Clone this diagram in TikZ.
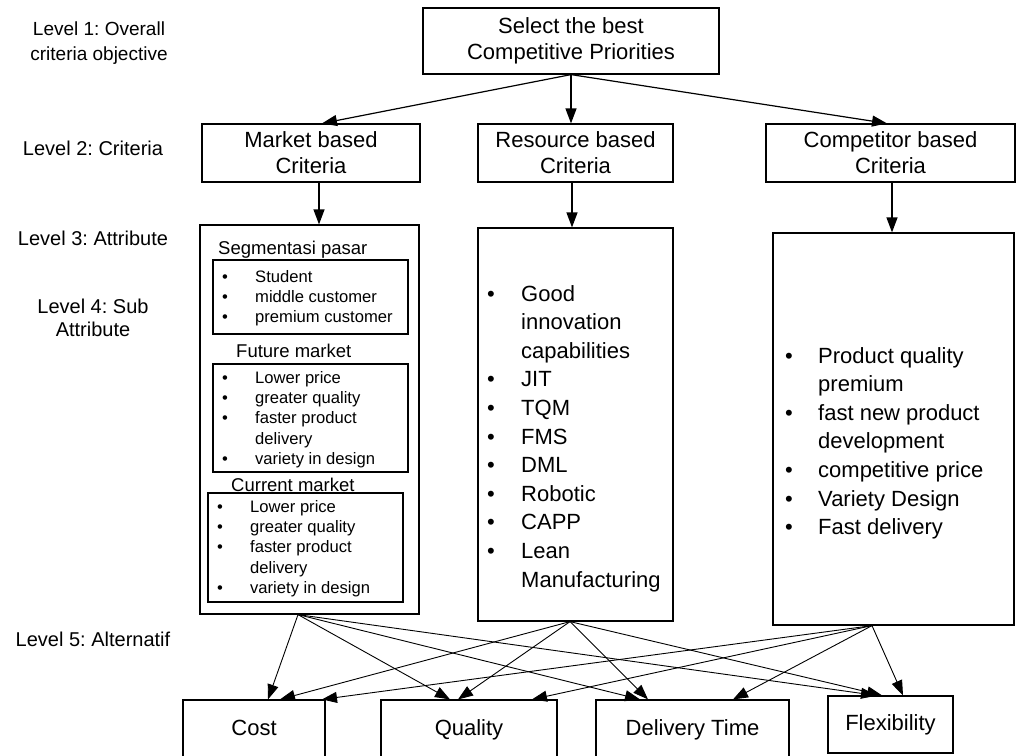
\documentclass[tikz,border=0pt]{standalone}
\usepackage{fontspec}
\setmainfont{Liberation Sans}
\usetikzlibrary{arrows.meta}
\frenchspacing

\newcommand{\fsz}[2]{\fontsize{#1}{#2}\selectfont}

\begin{document}
\begin{tikzpicture}[x=1pt,y=-1pt,
  box/.style={draw, line width=1.2pt, inner sep=0pt, align=center},
  big/.style={font=\fsz{22}{26}},
  alt/.style={box, big, text height=16pt, text depth=5pt},
  lvl/.style={font=\fsz{20}{23}, align=center},
  sub/.style={font=\fsz{18.5}{22}, inner sep=0pt, anchor=base west},
  small/.style={font=\fsz{16.6}{20.2}, inner sep=0pt, anchor=base west},
  list/.style={font=\fsz{22}{28.6}, inner sep=0pt, anchor=base west},
  >={Triangle[length=15pt,width=11pt]},
  arr/.style={->, line width=0.9pt}]

\useasboundingbox (0,0) rectangle (1016,755);
\clip (0,0) rectangle (1016,755);

\node[lvl, font=\fsz{19}{25}] (lv1) at (99,43) {Level 1: Overall\\criteria objective};
\node[lvl] (lv2) at (93,148) {Level 2: Criteria};
\node[lvl] (lv3) at (93,238) {Level 3: Attribute};
\node[lvl] (lv4) at (93,318) {Level 4: Sub\\Attribute};
\node[lvl] (lv5) at (93,639) {Level 5: Alternatif};

\node[box, big, minimum width=296pt, minimum height=66pt] (goal) at (571,41) {Select the best\\Competitive Priorities};

\node[box, big, minimum width=218pt, minimum height=58pt] (market) at (311,153) {Market based\\Criteria};
\node[box, big, minimum width=195pt, minimum height=58pt] (resource) at (575.5,153) {Resource based\\Criteria};
\node[box, big, minimum width=249pt, minimum height=58pt] (competitor) at (890.5,153) {Competitor based\\Criteria};

\node[box, minimum width=219pt, minimum height=389pt] (mattr) at (309.5,419.5) {};
\node[box, minimum width=195pt, minimum height=393pt] (rattr) at (575.5,424.5) {};
\node[box, minimum width=241pt, minimum height=392pt] (cattr) at (893.5,429) {};

\node[box, minimum width=195pt, minimum height=74pt] (segbox) at (310.5,297) {};
\node[box, minimum width=195pt, minimum height=108pt] (futbox) at (310.5,418) {};
\node[box, minimum width=195pt, minimum height=109pt] (curbox) at (305.5,547.5) {};

\node[sub] (seg) at (218,254) {Segmentasi pasar};
\node[sub] (fut) at (236,357) {Future market};
\node[sub] (cur) at (231,491) {Current market};

\node[small] (seglist) at (222,282.5) {\begin{tabular}[t]{@{}p{33pt}@{}l@{}}
\textbullet & Student\\
\textbullet & middle customer\\
\textbullet & premium customer
\end{tabular}};
\node[small] (futlist) at (222,383.5) {\begin{tabular}[t]{@{}p{33pt}@{}l@{}}
\textbullet & Lower price\\
\textbullet & greater quality\\
\textbullet & faster product\\
 & delivery\\
\textbullet & variety in design
\end{tabular}};
\node[small] (curlist) at (217,512.5) {\begin{tabular}[t]{@{}p{33pt}@{}l@{}}
\textbullet & Lower price\\
\textbullet & greater quality\\
\textbullet & faster product\\
 & delivery\\
\textbullet & variety in design
\end{tabular}};

\node[list] (rlist) at (487,301) {\begin{tabular}[t]{@{}p{34pt}@{}l@{}}
\textbullet & Good\\
 & innovation\\
 & capabilities\\
\textbullet & JIT\\
\textbullet & TQM\\
\textbullet & FMS\\
\textbullet & DML\\
\textbullet & Robotic\\
\textbullet & CAPP\\
\textbullet & Lean\\
 & Manufacturing
\end{tabular}};
\node[list] (clist) at (785,363) {\begin{tabular}[t]{@{}p{33pt}@{}l@{}}
\textbullet & Product quality\\
 & premium\\
\textbullet & fast new product\\
 & development\\
\textbullet & competitive price\\
\textbullet & Variety Design\\
\textbullet & Fast delivery
\end{tabular}};

\node[alt, minimum width=142pt, minimum height=60pt] (cost) at (254,730) {Cost};
\node[alt, minimum width=176pt, minimum height=60pt] (quality) at (469,730) {Quality};
\node[alt, minimum width=193pt, minimum height=60pt] (delivery) at (692.5,730) {Delivery Time};
\node[alt, minimum width=125pt, minimum height=57pt] (flex) at (890.5,724.5) {Flexibility};

\draw[arr, line width=1.2pt] (goal.south) -- ([xshift=11pt]market.north);
\draw[arr, line width=1.2pt] (goal.south) -- (goal.south |- resource.north);
\draw[arr, line width=1.2pt] (goal.south) -- ([xshift=-3.5pt]competitor.north);

\draw[arr, line width=1.2pt] ([xshift=8pt]market.south) -- ([xshift=8pt]market.south |- mattr.north);
\draw[arr, line width=1.2pt] ([xshift=-3.5pt]resource.south) -- ([xshift=-3.5pt]resource.south |- rattr.north);
\draw[arr, line width=1.2pt] ([xshift=1.5pt]competitor.south) -- ([xshift=1.5pt]competitor.south |- cattr.north);

\draw[arr] ([xshift=-11.5pt]mattr.south) -- ([xshift=14pt]cost.north);
\draw[arr] ([xshift=-11.5pt]mattr.south) -- ([xshift=-19pt]quality.north);
\draw[arr] ([xshift=-11.5pt]mattr.south) -- ([xshift=-52.5pt]delivery.north);
\draw[arr] ([xshift=-11.5pt]mattr.south) -- ([xshift=-14.5pt]flex.north);

\draw[arr] ([xshift=-5.5pt]rattr.south) -- ([xshift=26pt]cost.north);
\draw[arr] ([xshift=-5.5pt]rattr.south) -- ([xshift=-11pt]quality.north);
\draw[arr] ([xshift=-5.5pt]rattr.south) -- ([xshift=-44.5pt]delivery.north);
\draw[arr] ([xshift=-5.5pt]rattr.south) -- ([xshift=-8.5pt]flex.north);

\draw[arr] ([xshift=-21.5pt]cattr.south) -- ([xshift=68pt]cost.north);
\draw[arr] ([xshift=-21.5pt]cattr.south) -- ([xshift=63pt]quality.north);
\draw[arr] ([xshift=-21.5pt]cattr.south) -- ([xshift=40.5pt]delivery.north);
\draw[arr] ([xshift=-21.5pt]cattr.south) -- ([xshift=12.5pt]flex.north);

\end{tikzpicture}
\end{document}
